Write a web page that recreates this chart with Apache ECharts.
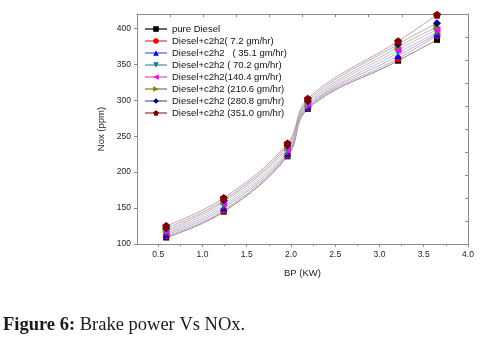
<!DOCTYPE html>
<html>
<head>
<meta charset="utf-8">
<script src="https://cdn.jsdelivr.net/npm/echarts@6/dist/echarts.min.js"></script>
<style>
  html, body { margin: 0; padding: 0; background: #fff; }
  #chart { width: 482px; height: 342px; }
</style>
</head>
<body>
<div id="chart"></div>
<script>
// brake power (KW) at each measured load
const bp = [0.59, 1.24, 1.96, 2.19, 3.21, 3.65]

const seriesNames = [
  'pure Diesel',
  'Diesel+c2h2( 7.2 gm/hr)',
  'Diesel+c2h2   ( 35.1 gm/hr)',
  'Diesel+c2h2 ( 70.2 gm/hr)',
  'Diesel+c2h2(140.4 gm/hr)',
  'Diesel+c2h2 (210.6 gm/hr)',
  'Diesel+c2h2 (280.8 gm/hr)',
  'Diesel+c2h2 (351.0 gm/hr)'
]

// NOx (ppm)
const noxPure = [109, 145, 222, 288, 355, 384]
const nox72 = [111, 147, 224, 290, 358, 390]
const nox351 = [113, 150, 226, 291, 362, 392]
const nox702 = [115, 153, 228, 292, 366, 394]
const nox1404 = [117, 156, 231, 294, 370, 398]
const nox2106 = [119, 159, 234, 296, 374, 402]
const nox2808 = [122, 161, 237, 299, 378, 407]
const nox3510 = [125, 164, 240, 302, 382, 419]

const xLabels = [0.5, 1.0, 1.5, 2.0, 2.5, 3.0, 3.5, 4.0]
const xMinor = [0.75, 1.25, 1.75, 2.25, 2.75, 3.25, 3.75]
const yLabels = [100, 150, 200, 250, 300, 350, 400]

const allNox = [noxPure, nox72, nox351, nox702, nox1404, nox2106, nox2808, nox3510]
const colors = ['#000000', '#ff0000', '#0000ff', '#008080', '#ff00ff', '#808000', '#000080', '#800000']
const lineColors = ['#666666', '#e08a98', '#9a9ae0', '#8fbcbc', '#e09ae0', '#b8aa8c', '#9a9abc', '#b88a8a']
const symbols = ['rect', 'circle', 'triangle', 'triangle', 'triangle', 'triangle', 'diamond',
  'path://M0,-10 L9.5,-3.1 L5.9,8.1 L-5.9,8.1 L-9.5,-3.1 Z']
const rotates = [0, 0, 0, 180, 90, -90, 0, 0]
const sizes = [6, 7, 7, 7, 7, 7, 8, 8]

const chart = echarts.init(document.getElementById('chart'))

const axisGray = '#8a8a8a'
const series = allNox.map((vals, i) => ({
  name: seriesNames[i],
  type: 'line',
  smooth: 0.4,
  xAxisIndex: 0,
  yAxisIndex: 0,
  data: bp.map((x, j) => [x, vals[j]]),
  symbol: symbols[i],
  symbolRotate: rotates[i],
  symbolSize: sizes[i],
  itemStyle: { color: colors[i] },
  lineStyle: { color: lineColors[i], width: 0.8 },
  z: 2 + i
}))

chart.setOption({
  animation: false,
  grid: { left: 137, right: 14, top: 14, bottom: 98 },
  legend: {
    orient: 'vertical',
    left: 139,
    top: 19,
    itemGap: 2,
    itemWidth: 22,
    itemHeight: 7,
    data: seriesNames,
    textStyle: { fontFamily: 'Liberation Sans', fontSize: 9.5, color: '#111' }
  },
  xAxis: [{
    type: 'value',
    min: 0.26,
    max: 4.0,
    name: 'BP (KW)',
    nameLocation: 'middle',
    nameGap: 24,
    nameTextStyle: { fontFamily: 'Liberation Sans', fontSize: 9.5, color: '#222' },
    axisLine: { lineStyle: { color: axisGray } },
    axisTick: { customValues: xLabels, length: 3, lineStyle: { color: axisGray } },
    axisLabel: {
      customValues: xLabels,
      formatter: v => v.toFixed(1),
      fontFamily: 'Liberation Sans', fontSize: 8.5, color: '#222', margin: 6
    },
    splitLine: { show: false }
  }, {
    type: 'value',
    min: 0.26,
    max: 4.0,
    position: 'bottom',
    axisLine: { show: false },
    axisTick: { customValues: xMinor, length: 2, lineStyle: { color: axisGray } },
    axisLabel: { show: false },
    splitLine: { show: false }
  }, {
    type: 'value',
    min: 0,
    max: 10,
    interval: 1,
    position: 'top',
    axisLine: { lineStyle: { color: axisGray } },
    axisTick: { inside: true, length: 3, lineStyle: { color: axisGray } },
    axisLabel: { show: false },
    splitLine: { show: false }
  }],
  yAxis: [{
    type: 'value',
    min: 100,
    max: 420,
    name: 'Nox (ppm)',
    nameLocation: 'middle',
    nameGap: 27,
    nameTextStyle: { fontFamily: 'Liberation Sans', fontSize: 9.5, color: '#222' },
    axisLine: { show: true, lineStyle: { color: axisGray } },
    axisTick: { show: true, customValues: yLabels, length: 3, lineStyle: { color: axisGray } },
    axisLabel: {
      customValues: yLabels,
      fontFamily: 'Liberation Sans', fontSize: 8.5, color: '#222', margin: 6
    },
    splitLine: { show: false }
  }, {
    type: 'value',
    min: 0,
    max: 10,
    interval: 1,
    position: 'right',
    axisLine: { show: true, lineStyle: { color: axisGray } },
    axisTick: { show: true, inside: true, length: 3, lineStyle: { color: axisGray } },
    axisLabel: { show: false },
    splitLine: { show: false }
  }],
  graphic: [{
    type: 'text',
    left: 3,
    top: 316,
    style: {
      text: '{b|Figure 6:} Brake power Vs NOx.',
      fontFamily: 'Liberation Serif',
      fontSize: 18.5,
      fill: '#1a1a1a',
      rich: { b: { fontWeight: 'bold', fontFamily: 'Liberation Serif', fontSize: 18.5, fill: '#1a1a1a' } }
    }
  }],
  series: series
})
</script>
</body>
</html>
